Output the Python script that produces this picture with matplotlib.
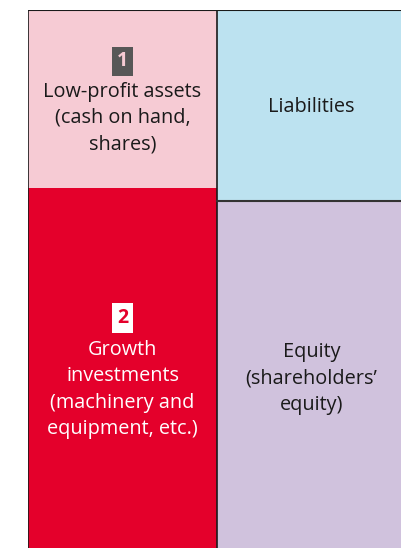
import matplotlib.pyplot as plt

# column layout: left = assets, right = liabilities + equity (heights in px-like units)
columns = [0, 1]
top_labels = ['1\nLow-profit assets\n(cash on hand,\nshares)', 'Liabilities']
bottom_labels = ['2\nGrowth\ninvestments\n(machinery and\nequipment, etc.)', 'Equity\n(shareholders\u2019\nequity)']
top_values = [178, 191]
bottom_values = [400, 400]
top_colors = ['#F6CBD4', '#BCE2F0']
bottom_colors = ['#E4002B', '#D0C2DD']

plt.rcParams['font.family'] = ['Open Sans', 'DejaVu Sans']

W, H = 401, 548
fig = plt.figure(figsize=(W / 100, H / 100), dpi=100)
# axes spans from x=28px to 406px, y=9.5px to 548px
x0, x1 = 28, 406
y0, y1 = 9.5, 548
ax = fig.add_axes([x0 / W, 1 - y1 / H, (x1 - x0) / W, (y1 - y0) / H])
ax.set_xlim(-0.5, 1.5)
ax.set_ylim(y1 - y0, 0)

ax.bar(columns, top_values, width=1, color=top_colors, align='center')
ax.bar(columns, bottom_values, width=1, bottom=top_values, color=bottom_colors, align='center')

# border lines
ax.axvline(-0.5, color='#1a1a1a', lw=1.2)
ax.axhline(0, color='#1a1a1a', lw=1.5)
ax.axvline(0.5, color='#1a1a1a', lw=1.2)
ax.plot([0.5, 1.5], [top_values[1], top_values[1]], color='#333333', lw=1.5)

fs = 14.3
ls = 1.42
# top-left
ax.text(0, 52, '1', ha='center', va='center', fontsize=14, fontweight='bold', color='#F6CBD4',
        bbox=dict(boxstyle='square,pad=0.25', fc='#575757', ec='none'))
ax.text(0, 108.5, 'Low-profit assets\n(cash on hand,\nshares)', ha='center', va='center',
        fontsize=fs, color='#1a1a1a', linespacing=ls)
# top-right
ax.text(1, 97.5, top_labels[1], ha='center', va='center', fontsize=fs, color='#1a1a1a')
# bottom-left
ax.text(0, 308.5, '2', ha='center', va='center', fontsize=14, fontweight='bold', color='#E4002B',
        bbox=dict(boxstyle='square,pad=0.25', fc='white', ec='none'))
ax.text(0, 380, 'Growth\ninvestments\n(machinery and\nequipment, etc.)', ha='center', va='center',
        fontsize=fs, color='white', linespacing=ls)
# bottom-right
ax.text(1, 369, bottom_labels[1], ha='center', va='center', fontsize=fs, color='#1a1a1a',
        linespacing=ls)

ax.axis('off')
fig.savefig('out.png', dpi=100)
